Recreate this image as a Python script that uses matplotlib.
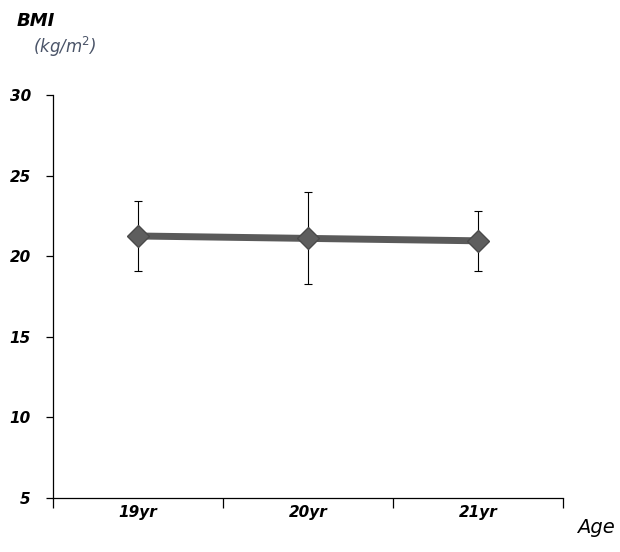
import numpy as np
import matplotlib.pyplot as plt

# Data
ages = ['19yr', '20yr', '21yr']
bmi_mean = [21.25, 21.1, 20.95]
bmi_sd = [2.2, 2.85, 1.85]

fig = plt.figure(figsize=(6.2, 5.52), dpi=100)
ax = fig.add_axes([0.0855, 0.098, 0.823, 0.73])

x = np.arange(len(ages)) + 0.5
ax.errorbar(x, bmi_mean, yerr=bmi_sd, fmt='none', ecolor='black',
            elinewidth=0.8, capsize=3, capthick=0.8, zorder=2)
ax.plot(x, bmi_mean, color='#5a5a5a', linewidth=5, solid_capstyle='butt',
        marker='D', markersize=11, markerfacecolor='#5e5e5e',
        markeredgecolor='#4a4a4a', zorder=3)

ax.set_xlim(0, 3)
ax.set_ylim(5, 30)
ax.set_yticks([5, 10, 15, 20, 25, 30])
ax.set_xticks([0, 1, 2, 3])
ax.set_xticklabels([])
ax.set_xticks(x, minor=True)
ax.set_xticklabels(ages, minor=True)

for s in ['top', 'right']:
    ax.spines[s].set_visible(False)
for s in ['left', 'bottom']:
    ax.spines[s].set_linewidth(0.9)

ax.tick_params(axis='y', direction='out', length=5, width=0.9, pad=11,
               labelsize=11)
ax.tick_params(axis='x', which='major', direction='out', length=7, width=0.9)
ax.tick_params(axis='x', which='minor', length=0, pad=5, labelsize=11)
for lab in ax.get_yticklabels() + ax.get_xticklabels(minor=True):
    lab.set_fontweight('bold')
    lab.set_fontstyle('italic')

fig.text(0.027, 0.962, 'BMI', fontsize=13, fontweight='bold',
         fontstyle='italic', ha='left', va='center')
fig.text(0.053, 0.915, '(kg/m$^2$)', fontsize=12, fontstyle='italic',
         color='#4a5468', ha='left', va='center')
fig.text(0.93, 0.045, 'Age', fontsize=14, fontstyle='italic',
         ha='left', va='center')

fig.savefig('out.png', dpi=100)
